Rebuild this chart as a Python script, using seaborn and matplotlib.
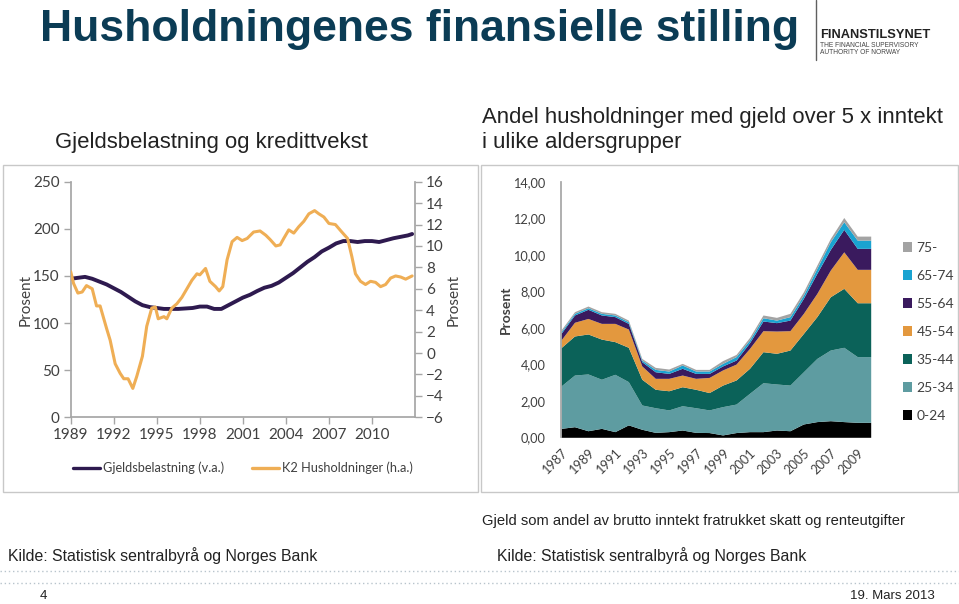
import numpy as np
import pandas as pd
import matplotlib
matplotlib.use("Agg")
import matplotlib.pyplot as plt
import seaborn as sns
from matplotlib.patches import Rectangle, Patch
from matplotlib.lines import Line2D
from matplotlib import font_manager

# ---------------- data ----------------
debt_years = [1989.0, 1989.5, 1990.0, 1990.5, 1991.0, 1991.5, 1992.0, 1992.5, 1993.0, 1993.5,
              1994.0, 1994.5, 1995.0, 1995.5, 1996.0, 1996.5, 1997.0, 1997.5, 1998.0, 1998.5,
              1999.0, 1999.5, 2000.0, 2000.5, 2001.0, 2001.5, 2002.0, 2002.5, 2003.0, 2003.5,
              2004.0, 2004.5, 2005.0, 2005.5, 2006.0, 2006.5, 2007.0, 2007.5, 2008.0, 2008.5,
              2009.0, 2009.5, 2010.0, 2010.5, 2011.0, 2011.5, 2012.0, 2012.5, 2012.8]
debt_values = [147, 148, 149, 147, 144, 141, 137, 133, 128, 123,
               119, 117, 116, 115, 115, 115, 115.5, 116, 117.5, 117.5,
               115, 115, 119, 123, 127, 130, 134, 137.5, 139.5, 143,
               148, 153, 159, 165, 170, 176, 180, 184.5, 187, 187,
               186, 187, 187, 186, 188, 190, 191.5, 193, 194.5]

k2_years = [1989.0, 1989.2, 1989.5, 1989.8, 1990.1, 1990.5, 1990.8, 1991.05, 1991.5, 1991.75,
            1992.1, 1992.45, 1992.7, 1993.0, 1993.33, 1993.6, 1994.0, 1994.3, 1994.65, 1994.9,
            1995.1, 1995.5, 1995.7, 1996.05, 1996.4, 1996.75, 1997.1, 1997.45, 1997.8, 1998.0,
            1998.4, 1998.7, 1999.1, 1999.35, 1999.6, 1999.9, 2000.25, 2000.6, 2000.95, 2001.3,
            2001.75, 2002.2, 2002.6, 2002.9, 2003.3, 2003.6, 2003.85, 2004.2, 2004.55, 2004.9,
            2005.25, 2005.6, 2006.0, 2006.3, 2006.65, 2007.0, 2007.45, 2007.9, 2008.3, 2008.6,
            2008.85, 2009.2, 2009.55, 2009.9, 2010.25, 2010.6, 2010.95, 2011.3, 2011.65, 2012.0,
            2012.35, 2012.8]
k2_values = [7.6, 6.5, 5.6, 5.7, 6.3, 6.0, 4.4, 4.4, 2.3, 1.2,
             -1.0, -1.9, -2.4, -2.4, -3.3, -2.2, -0.3, 2.5, 4.2, 4.3,
             3.2, 3.4, 3.2, 4.2, 4.6, 5.2, 6.0, 6.8, 7.4, 7.3,
             7.9, 6.7, 6.2, 5.8, 6.2, 8.7, 10.4, 10.8, 10.5, 10.7,
             11.3, 11.4, 11.0, 10.6, 10.0, 10.1, 10.7, 11.5, 11.2, 11.8,
             12.3, 13.0, 13.3, 13.0, 12.7, 12.1, 12.0, 11.3, 10.7, 9.0,
             7.4, 6.7, 6.4, 6.7, 6.6, 6.2, 6.4, 7.0, 7.2, 7.1,
             6.9, 7.2]

age_years = list(range(1987, 2011))
age_0_24 = [0.49, 0.58, 0.36, 0.49, 0.31, 0.68, 0.44, 0.27, 0.31, 0.40, 0.27, 0.26,
            0.13, 0.26, 0.31, 0.31, 0.40, 0.36, 0.73, 0.86, 0.91, 0.86, 0.82, 0.82]
age_25_34 = [2.32, 2.83, 3.11, 2.69, 3.14, 2.37, 1.33, 1.35, 1.19, 1.33, 1.35, 1.24,
             1.55, 1.56, 2.10, 2.68, 2.52, 2.50, 2.86, 3.46, 3.87, 4.07, 3.60, 3.60]
age_35_44 = [2.10, 2.14, 2.19, 2.20, 1.79, 1.88, 1.41, 1.01, 1.05, 1.04, 1.01, 0.95,
             1.18, 1.32, 1.37, 1.70, 1.68, 1.92, 2.10, 2.29, 2.92, 3.23, 2.95, 2.95]
age_45_54 = [0.42, 0.75, 0.85, 0.86, 1.00, 1.00, 0.73, 0.60, 0.68, 0.64, 0.60, 0.83,
             0.83, 0.87, 1.09, 1.15, 1.22, 1.06, 1.10, 1.27, 1.46, 2.00, 1.83, 1.83]
age_55_64 = [0.36, 0.40, 0.50, 0.46, 0.37, 0.31, 0.23, 0.36, 0.27, 0.37, 0.27, 0.22,
             0.22, 0.22, 0.31, 0.53, 0.46, 0.58, 0.82, 1.10, 1.13, 1.23, 1.15, 1.15]
age_65_74 = [0.09, 0.09, 0.09, 0.09, 0.09, 0.09, 0.09, 0.13, 0.13, 0.18, 0.13, 0.13,
             0.14, 0.19, 0.15, 0.18, 0.14, 0.19, 0.18, 0.27, 0.42, 0.42, 0.45, 0.45]
age_75 = [0.10, 0.09, 0.09, 0.09, 0.09, 0.09, 0.09, 0.11, 0.11, 0.09, 0.09, 0.09,
          0.15, 0.12, 0.14, 0.15, 0.15, 0.18, 0.18, 0.18, 0.18, 0.23, 0.22, 0.22]
age_labels = ["0-24", "25-34", "35-44", "45-54", "55-64", "65-74", "75-"]
age_colors = ["#000000", "#5E9CA1", "#0B6259", "#E3983E", "#3A1A5E", "#1AA3D1", "#A3A3A3"]

left_xticks = list(range(1989, 2011, 3))
left_yticks = list(range(0, 251, 50))
right_yticks = list(range(-6, 17, 2))
area_yticks = list(range(0, 15, 2))
area_xticks = list(range(1987, 2010, 2))

# ---------------- style ----------------
sns.set_theme(style="white")
names = {f.name for f in font_manager.fontManager.ttflist}
NARROW = 'Liberation Sans Narrow' if 'Liberation Sans Narrow' in names else 'Liberation Sans'
plt.rcParams['font.family'] = ['Lato', 'DejaVu Sans']

W, H = 959, 604
fig = plt.figure(figsize=(9.59, 6.04), dpi=100)
fig.patch.set_facecolor('white')


def fx(x):
    return x / W


def fy(y):
    return 1 - y / H


SPINE = '#a6a6a6'
TXT = '#404040'

# panel borders
for x0, x1 in [(3, 478), (481, 958)]:
    fig.add_artist(Rectangle((fx(x0), fy(492)), (x1 - x0) / W, (492 - 165) / H,
                             transform=fig.transFigure, fill=False, ec='#c8c8c8', lw=1))

# ---------------- left chart ----------------
ax = fig.add_axes([fx(70.7), fy(417.3), (415 - 70.7) / W, (417.3 - 181.7) / H])
ax.set_facecolor('none')
sns.lineplot(x=debt_years, y=debt_values, ax=ax, color='#2E1A4F', lw=2.8)
ax2 = ax.twinx()
sns.lineplot(x=k2_years, y=k2_values, ax=ax2, color='#EFAE55', lw=2.2)
ax.set_xlim(1989, 2013)
ax.set_ylim(0, 250)
ax2.set_ylim(-6, 16)
ax.set_xticks(left_xticks)
ax.set_yticks(left_yticks)
ax2.set_yticks(right_yticks)
for s in ['top', 'right']:
    ax.spines[s].set_visible(False)
for s in ['top', 'left', 'bottom']:
    ax2.spines[s].set_visible(False)
for s in ['left', 'bottom']:
    ax.spines[s].set_color(SPINE)
ax2.spines['right'].set_color(SPINE)
ax.tick_params(axis='both', bottom=True, left=True, direction='out', length=5, width=1,
               color=SPINE, labelsize=11, labelcolor=TXT, pad=3)
ax2.tick_params(axis='y', right=True, direction='out', length=5, width=1,
                color=SPINE, labelsize=11, labelcolor=TXT, pad=3)
ax.set_ylabel('Prosent', fontsize=11, color=TXT)
ax2.set_ylabel('Prosent', fontsize=11, color=TXT)
ax.yaxis.set_label_coords((33 - 70.7) / 344.3, 0.5)
ax2.yaxis.set_label_coords((447 - 70.7) / 344.3, 0.5)
ax.set_xlabel('')

handles = [Line2D([], [], color='#2E1A4F', lw=2.4), Line2D([], [], color='#EFAE55', lw=2.4)]
fig.legend(handles, ['Gjeldsbelastning (v.a.)', 'K2 Husholdninger (h.a.)'], loc='center',
           bbox_to_anchor=(fx(243), fy(468)), ncol=2, frameon=False, fontsize=9.2,
           handlelength=2.1, columnspacing=2.2, handletextpad=0.25, labelcolor=TXT)

# ---------------- right chart ----------------
ax3 = fig.add_axes([fx(561), fy(437.3), (870.7 - 561) / W, (437.3 - 181.7) / H])
layers = [age_0_24, age_25_34, age_35_44, age_45_54, age_55_64, age_65_74, age_75]
ax3.stackplot(age_years, *layers, colors=age_colors, labels=age_labels, lw=0)
ax3.set_xlim(1987, 2010)
ax3.set_ylim(0, 14)
ax3.set_yticks(area_yticks)
ax3.set_yticklabels([f"{v:.2f}".replace('.', ',') for v in area_yticks])
ax3.set_xticks(area_xticks)
ax3.set_xticklabels([str(y) for y in area_xticks], rotation=45, ha='right',
                    rotation_mode='anchor')
for s in ['top', 'right', 'bottom']:
    ax3.spines[s].set_visible(False)
ax3.spines['left'].set_color(SPINE)
ax3.tick_params(axis='y', left=False, labelsize=9.2, labelcolor=TXT, pad=5)
ax3.tick_params(axis='x', bottom=False, labelsize=9.2, labelcolor=TXT, pad=1)
ax3.set_ylabel('Prosent', fontsize=10, color=TXT, weight='bold')
ax3.yaxis.set_label_coords((512 - 561) / 309.7, 0.5)

lh = [Patch(facecolor=c, edgecolor='none') for c in age_colors][::-1]
fig.legend(lh, age_labels[::-1], loc='upper left', bbox_to_anchor=(fx(897), fy(236)),
           frameon=False, fontsize=10, handlelength=0.7, handleheight=0.7,
           handletextpad=0.3, labelspacing=1.16, labelcolor=TXT, borderaxespad=0)

# ---------------- slide texts ----------------
fig.text(fx(40), fy(30), 'Husholdningenes finansielle stilling', fontsize=32, weight='bold',
         color='#0B3C55', family=[NARROW, 'DejaVu Sans'], va='center', ha='left')
fig.add_artist(Line2D([fx(816), fx(816)], [fy(0), fy(60)], transform=fig.transFigure,
                      color='#606060', lw=1))
fig.text(fx(820), fy(35), 'FINANSTILSYNET', fontsize=9.3, weight='bold', color='#222222',
         family=['Liberation Sans', 'DejaVu Sans'], va='center')
fig.text(fx(820), fy(45.5), 'THE FINANCIAL SUPERVISORY', fontsize=4.8, color='#444444',
         family=['Liberation Sans', 'DejaVu Sans'], va='center')
fig.text(fx(820), fy(53), 'AUTHORITY OF NORWAY', fontsize=4.8, color='#444444',
         family=['Liberation Sans', 'DejaVu Sans'], va='center')

nf = [NARROW, 'DejaVu Sans']
fig.text(fx(55), fy(143), 'Gjeldsbelastning og kredittvekst', fontsize=15.9, color='#222222',
         family=nf, va='center')
fig.text(fx(482), fy(117), 'Andel husholdninger med gjeld over 5 x inntekt', fontsize=15.9,
         color='#222222', family=nf, va='center')
fig.text(fx(482), fy(143), 'i ulike aldersgrupper', fontsize=15.9, color='#222222',
         family=nf, va='center')
fig.text(fx(482), fy(521), 'Gjeld som andel av brutto inntekt fratrukket skatt og renteutgifter',
         fontsize=10.6, color='#222222', family=nf, va='center')
fig.text(fx(8), fy(556), 'Kilde: Statistisk sentralbyrå og Norges Bank', fontsize=11.4,
         color='#222222', family=nf, va='center')
fig.text(fx(497), fy(556), 'Kilde: Statistisk sentralbyrå og Norges Bank', fontsize=11.4,
         color='#222222', family=nf, va='center')
for yy in (571, 583):
    fig.add_artist(Line2D([0, 1], [fy(yy), fy(yy)], transform=fig.transFigure,
                          color='#b8c4cc', lw=1, ls=(0, (1, 2))))
fig.text(fx(40), fy(596), '4', fontsize=9.5, color='#222222', family=nf, va='center')
fig.text(fx(935), fy(596), '19. Mars 2013', fontsize=9.5, color='#222222', family=nf,
         va='center', ha='right')

fig.savefig('out.png', dpi=100, facecolor='white')
